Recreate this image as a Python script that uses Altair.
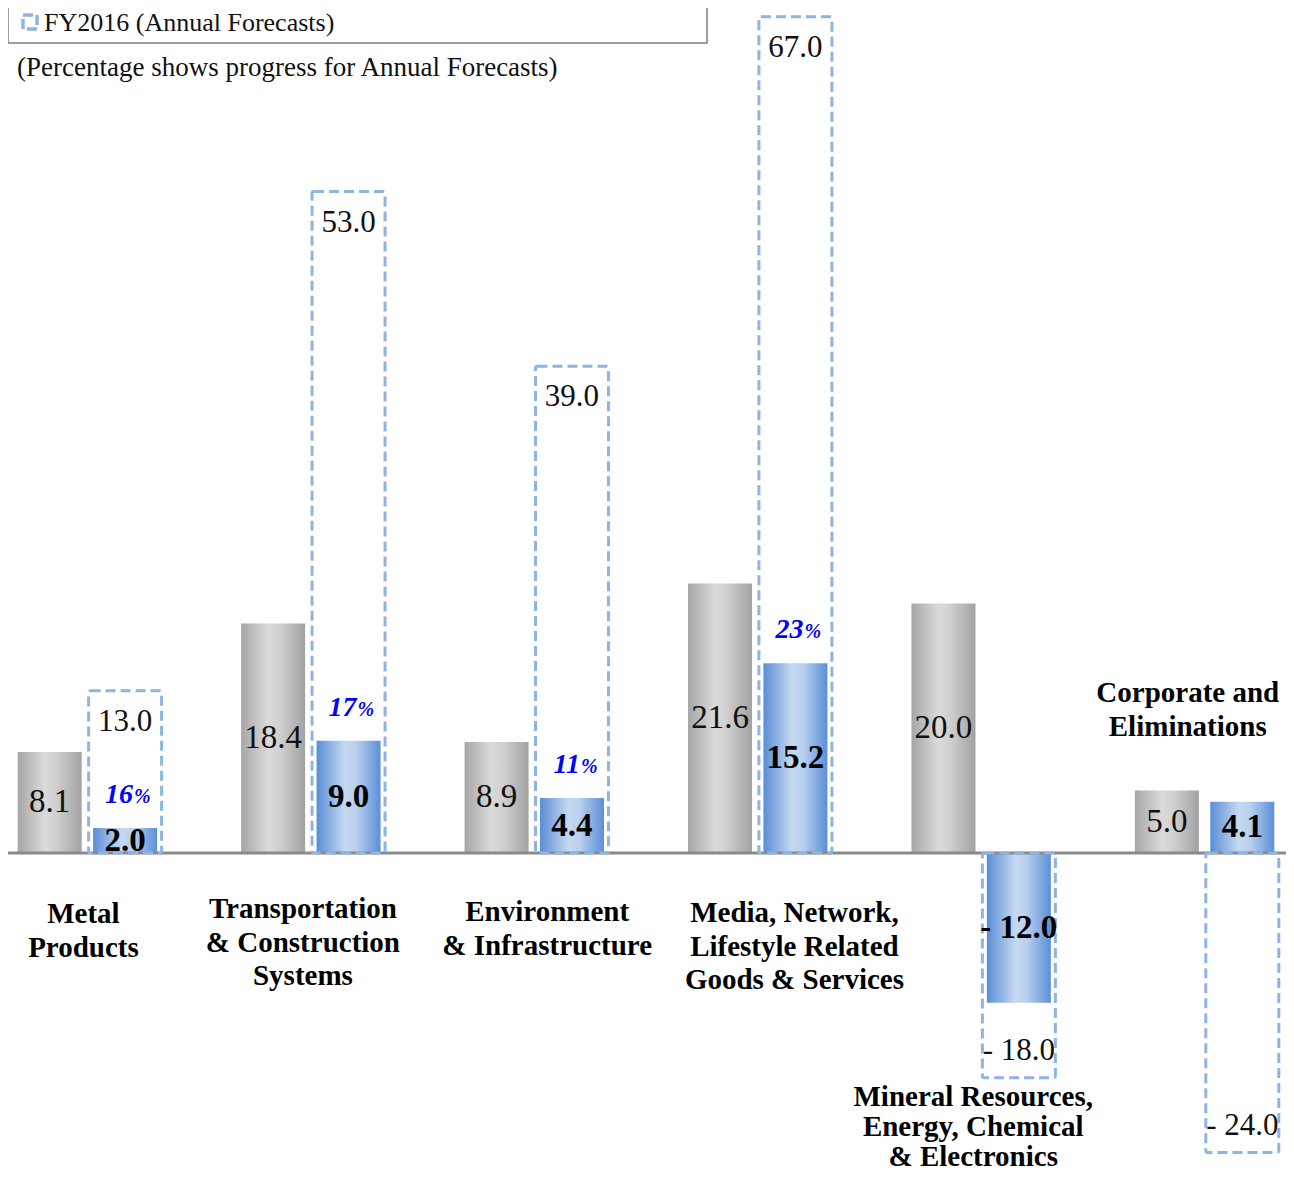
import altair as alt
import pandas as pd

# ---------------- data ----------------
categories = [
    "Metal Products",
    "Transportation & Construction Systems",
    "Environment & Infrastructure",
    "Media, Network, Lifestyle Related Goods & Services",
    "Mineral Resources, Energy, Chemical & Electronics",
    "Corporate and Eliminations",
]
category_text = [
    "Metal\nProducts",
    "Transportation\n& Construction\nSystems",
    "Environment\n& Infrastructure",
    "Media, Network,\nLifestyle Related\nGoods & Services",
    "Mineral Resources,\nEnergy, Chemical\n& Electronics",
    "Corporate and\nEliminations",
]
prior_values = [8.1, 18.4, 8.9, 21.6, 20.0, 5.0]
q1_values = [2.0, 9.0, 4.4, 15.2, -12.0, 4.1]
forecast_values = [13.0, 53.0, 39.0, 67.0, -18.0, -24.0]
progress_pct = [16, 17, 11, 23, None, None]

legend_text = "FY2016 (Annual Forecasts)"
subtitle_text = "(Percentage shows progress for Annual Forecasts)"

# ---------------- layout (not data) ----------------
W, H = 1278, 1170
STEP = 225.2
FIRST = 75
X_DOMAIN = [-FIRST / STEP, (W - FIRST) / STEP]
Y_DOMAIN = [-26.04, 67.71]
BAR_SHIFT = 38 / STEP          # offset of each bar from group centre, in group units
label_dx_px = [-4, -8, 13, 37, -8, -17]
label_y = [-4.89, -4.49, -4.73, -4.81, -19.55, 12.82]   # first-line centre, value units
label_line_h = [33.5, 33.5, 33.5, 33.5, 30, 33.5]

FONT = "Liberation Serif"
GRAY_GRAD = alt.Gradient(
    gradient="linear", x1=0, x2=1, y1=0, y2=0,
    stops=[
        alt.GradientStop(color="#a6a6a6", offset=0),
        alt.GradientStop(color="#dadada", offset=0.42),
        alt.GradientStop(color="#d0d0d0", offset=0.6),
        alt.GradientStop(color="#a2a2a2", offset=1),
    ],
)
BLUE_GRAD = alt.Gradient(
    gradient="linear", x1=0, x2=1, y1=0, y2=0,
    stops=[
        alt.GradientStop(color="#5a8dd6", offset=0),
        alt.GradientStop(color="#c6d9f1", offset=0.45),
        alt.GradientStop(color="#b9cfee", offset=0.62),
        alt.GradientStop(color="#5b8fd8", offset=1),
    ],
)
DASH_COLOR = "#8db4e2"


def fmt(v):
    return f"- {abs(v):.1f}" if v < 0 else f"{v:.1f}"


rows = []
for i, c in enumerate(categories):
    rows.append({
        "cat": c,
        "x_prior": i - BAR_SHIFT,
        "x_q1": i + BAR_SHIFT,
        "prior": prior_values[i],
        "prior_mid": prior_values[i] / 2,
        "prior_label": fmt(prior_values[i]),
        "q1": q1_values[i],
        "q1_mid": q1_values[i] / 2,
        "q1_label": fmt(q1_values[i]),
        "forecast": forecast_values[i],
        "forecast_label": fmt(forecast_values[i]),
        "pct": progress_pct[i] if progress_pct[i] is not None else -1,
        "pct_label": str(progress_pct[i]) if progress_pct[i] is not None else "",
        "cat_text": category_text[i],
        "x_label": i + label_dx_px[i] / STEP,
        "y_label": label_y[i],
    })
df = pd.DataFrame(rows)

xs = alt.Scale(domain=X_DOMAIN, nice=False, zero=False)
ys = alt.Scale(domain=Y_DOMAIN, nice=False, zero=False)


def X(f):
    return alt.X(f, type="quantitative", scale=xs, axis=None)


def Y(f):
    return alt.Y(f, type="quantitative", scale=ys, axis=None)


base = alt.Chart(df)

gray_bars = base.mark_bar(size=64, color=GRAY_GRAD, orient="vertical").encode(
    x=X("x_prior"), y=Y("prior"), y2=alt.datum(0)
)
blue_bars = base.mark_bar(size=64, color=BLUE_GRAD, orient="vertical").encode(
    x=X("x_q1"), y=Y("q1"), y2=alt.datum(0)
)
baseline = alt.Chart(pd.DataFrame({"z": [0]})).mark_rule(
    color="#8a8a8a", strokeWidth=3
).encode(y=alt.Y("z:Q", scale=ys, axis=None))

boxes = base.mark_bar(
    size=73, filled=False, stroke=DASH_COLOR, strokeWidth=3,
    strokeDash=[10, 5], cornerRadius=2, orient="vertical"
).encode(x=X("x_q1"), y=Y("forecast"), y2=alt.datum(0))

gray_text = base.mark_text(font=FONT, fontSize=33, baseline="middle", color="#111").encode(
    x=X("x_prior"), y=Y("prior_mid"), text="prior_label:N"
)
blue_text = base.mark_text(
    font=FONT, fontSize=33, fontWeight="bold", baseline="middle", color="#000"
).encode(x=X("x_q1"), y=Y("q1_mid"), text="q1_label:N")

fc_pos = base.transform_filter("datum.forecast >= 0").mark_text(
    font=FONT, fontSize=31, baseline="middle", dy=31, color="#111"
).encode(x=X("x_q1"), y=Y("forecast"), text="forecast_label:N")
fc_neg = base.transform_filter("datum.forecast < 0").mark_text(
    font=FONT, fontSize=31, baseline="middle", dy=-27, color="#111"
).encode(x=X("x_q1"), y=Y("forecast"), text="forecast_label:N")

pct_num = base.transform_filter("datum.pct >= 0").mark_text(
    font=FONT, fontSize=28, fontWeight="bold", fontStyle="italic",
    baseline="alphabetic", align="right", dx=8, dy=-25, color="#0000ff"
).encode(x=X("x_q1"), y=Y("q1"), text="pct_label:N")
pct_sign = base.transform_filter("datum.pct >= 0").mark_text(
    font=FONT, fontSize=20, fontWeight="bold", fontStyle="italic",
    baseline="alphabetic", align="left", dx=9, dy=-25, color="#0000ff"
).encode(x=X("x_q1"), y=Y("q1"), text=alt.value("%"))

cat_layers = []
for lh in sorted(set(label_line_h)):
    sub = [c for c, h in zip(categories, label_line_h) if h == lh]
    cat_layers.append(
        base.transform_filter(alt.FieldOneOfPredicate(field="cat", oneOf=sub)).mark_text(
            font=FONT, fontSize=29, fontWeight="bold", baseline="middle", align="center",
            lineBreak="\n", lineHeight=lh, color="#000"
        ).encode(x=X("x_label"), y=Y("y_label"), text="cat_text:N")
    )

one = alt.Chart(pd.DataFrame({"k": [0]}))
legend_box = one.mark_rect(fill="white", stroke="#7f7f7f", strokeWidth=1.5).encode(
    x=alt.value(0), x2=alt.value(699), y=alt.value(-10), y2=alt.value(35)
)
legend_icon = one.mark_rect(
    fill="white", stroke=DASH_COLOR, strokeWidth=3.5, strokeDash=[10, 4]
).encode(x=alt.value(15), x2=alt.value(29), y=alt.value(7), y2=alt.value(21))
legend_label = one.mark_text(
    font=FONT, fontSize=26, align="left", baseline="middle", color="#111"
).encode(x=alt.value(36), y=alt.value(15), text=alt.value(legend_text))
subtitle = one.mark_text(
    font=FONT, fontSize=27, align="left", baseline="middle", color="#111"
).encode(x=alt.value(9), y=alt.value(60), text=alt.value(subtitle_text))

chart = alt.layer(
    gray_bars, blue_bars, baseline, boxes,
    gray_text, blue_text, fc_pos, fc_neg, pct_num, pct_sign, *cat_layers,
    legend_box, legend_icon, legend_label, subtitle,
).properties(
    width=W, height=H, padding=0,
    autosize=alt.AutoSizeParams(type="none"),
    background="white",
).configure_view(stroke=None)

chart.save("out.html", embed_options={"renderer": "svg", "actions": False})
